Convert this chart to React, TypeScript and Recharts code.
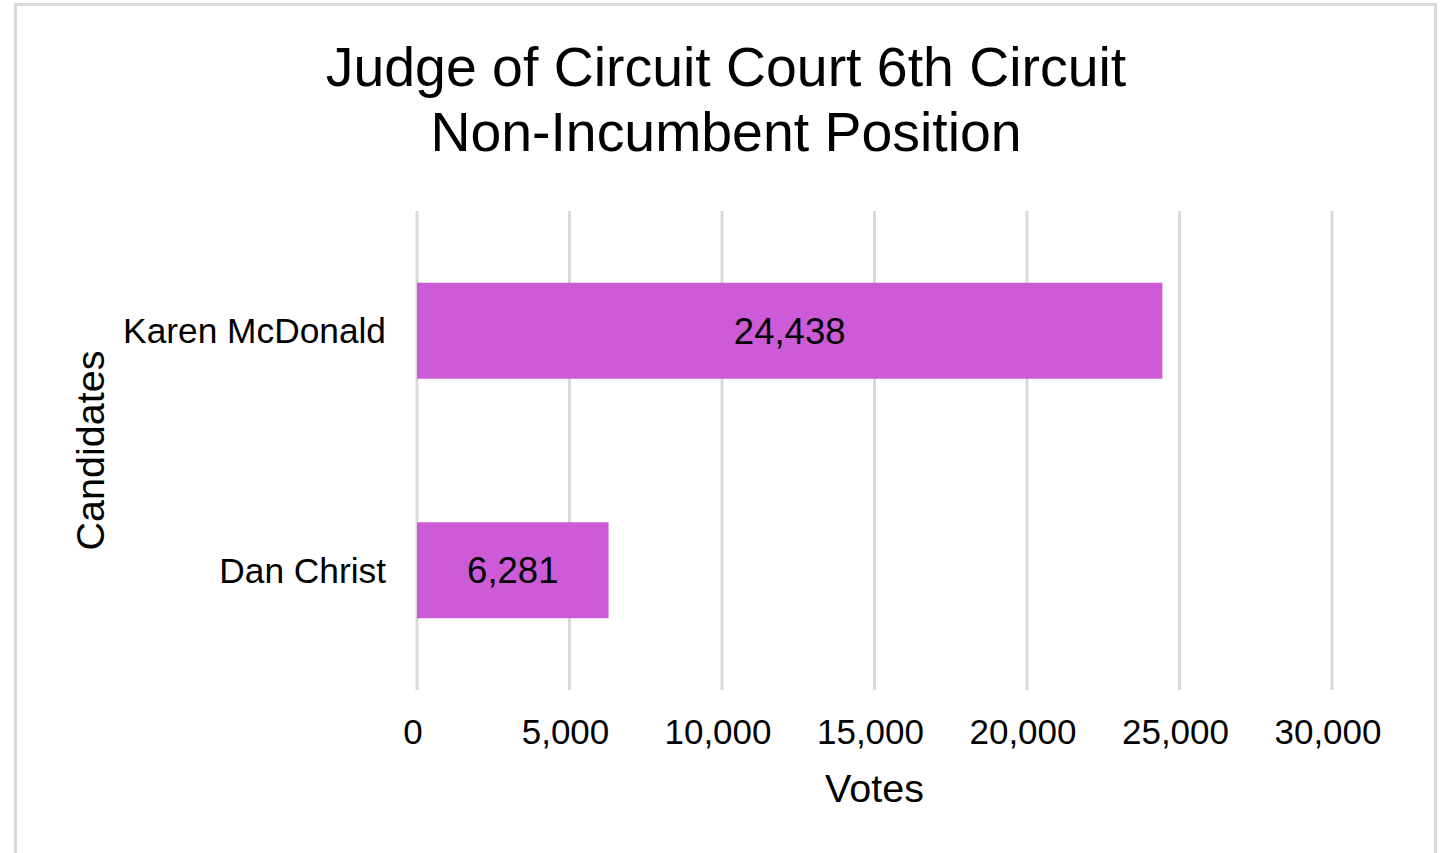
import { BarChart, Bar, XAxis, YAxis, CartesianGrid, LabelList } from "recharts";

const candidates = ["Karen McDonald", "Dan Christ"];
const votes = [24438, 6281];
const voteTicks = [0, 5000, 10000, 15000, 20000, 25000, 30000];

const chartTitle = ["Judge of Circuit Court 6th Circuit", "Non-Incumbent Position"];

const data = candidates.map((name, i) => ({ name, votes: votes[i] }));

const FONT = '"Liberation Sans", Arial, sans-serif';
const BAR_COLOR = "#cd5ad7";
const GRID_COLOR = "#d9d9d9";

const fmt = (v: number) => v.toLocaleString("en-US");

export default function App() {
  return (
    <div style={{ position: "absolute", left: 0, top: 0, width: 1443, height: 853, background: "#fff", overflow: "hidden" }}>
      <div
        style={{
          position: "absolute",
          left: 14,
          top: 3,
          width: 1423,
          height: 900,
          border: `3px solid ${GRID_COLOR}`,
          boxSizing: "border-box",
        }}
      />
      <BarChart
        width={1443}
        height={853}
        data={data}
        layout="vertical"
        barCategoryGap="30%"
        margin={{ top: 211, right: 111, bottom: 83, left: 0 }}
        style={{ position: "absolute", left: 0, top: 0, fontFamily: FONT }}
      >
        <text x={726} y={86} textAnchor="middle" fontSize={55.4} fill="#000" fontFamily={FONT}>
          {chartTitle[0]}
        </text>
        <text x={726} y={151} textAnchor="middle" fontSize={55.4} fill="#000" fontFamily={FONT}>
          {chartTitle[1]}
        </text>
        <CartesianGrid horizontal={false} stroke={GRID_COLOR} strokeWidth={3} />
        <XAxis
          type="number"
          domain={[0, 30000]}
          ticks={voteTicks}
          tickFormatter={fmt}
          axisLine={false}
          tickLine={false}
          tickSize={0}
          tickMargin={29}
          height={80}
          interval={0}
          tick={{ fontSize: 35, fill: "#000", dx: -4 }}
          label={({ viewBox }: any) => (
            <text
              x={viewBox.x + viewBox.width / 2}
              y={viewBox.y + 112}
              textAnchor="middle"
              fontSize={39.5}
              fill="#000"
              fontFamily={FONT}
            >
              Votes
            </text>
          )}
        />
        <YAxis
          type="category"
          dataKey="name"
          width={417}
          axisLine={false}
          tickLine={false}
          tickSize={0}
          tickMargin={31}
          tick={{ fontSize: 35.3, fill: "#000" }}
          label={({ viewBox }: any) => {
            const cx = 104;
            const cy = viewBox.y + viewBox.height / 2;
            return (
              <text
                x={cx}
                y={cy}
                textAnchor="middle"
                fontSize={39.5}
                fill="#000"
                fontFamily={FONT}
                transform={`rotate(-90 ${cx} ${cy})`}
              >
                Candidates
              </text>
            );
          }}
        />
        <Bar dataKey="votes" fill={BAR_COLOR} isAnimationActive={false}>
          <LabelList
            dataKey="votes"
            position="center"
            formatter={(v: any) => fmt(Number(v))}
            style={{ fontSize: 36.5, fill: "#000", fontFamily: FONT }}
          />
        </Bar>
      </BarChart>
    </div>
  );
}
